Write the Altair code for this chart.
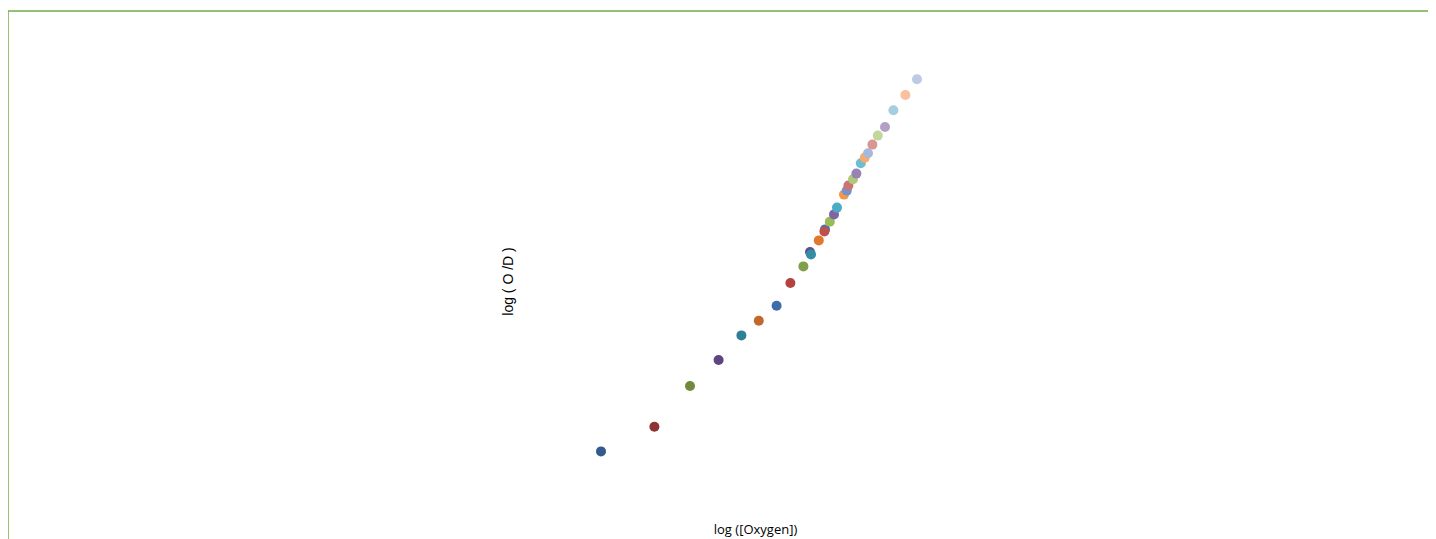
import altair as alt
import pandas as pd

# log([Oxygen]) values
log_oxygen = [-1.035, -0.768, -0.590, -0.447, -0.333, -0.246, -0.157, -0.088,
              -0.023, 0.010, 0.015, 0.054, 0.085, 0.082, 0.109, 0.130,
              0.145, 0.180, 0.194, 0.202, 0.225, 0.242, 0.264, 0.284,
              0.300, 0.322, 0.349, 0.385, 0.427, 0.487, 0.545]
# log(O/D) values
log_od = [-1.202, -1.079, -0.875, -0.745, -0.622, -0.549, -0.474, -0.360,
          -0.277, -0.205, -0.217, -0.147, -0.092, -0.102, -0.054, -0.017,
          0.017, 0.082, 0.102, 0.127, 0.159, 0.187, 0.239, 0.267,
          0.289, 0.332, 0.377, 0.420, 0.504, 0.580, 0.659]
series_colors = ["#335b8e", "#8c3431", "#70893c", "#5b4680", "#2f7f96", "#c0692a",
                 "#3c6daa", "#b4423f", "#7fa04a", "#5e4d8a", "#338ea5", "#e0792f",
                 "#4472b5", "#c0504d", "#9bbb59", "#8064a2", "#4bacc6", "#f79646",
                 "#6f94d0", "#cd7371", "#afc97a", "#9983b5", "#6fbdd3", "#f9ab6b",
                 "#a5b8de", "#d99694", "#c3d69b", "#b2a1c7", "#a5cfe0", "#fbc09d",
                 "#bccae4"]
series_ids = [f"Series{i + 1}" for i in range(len(log_oxygen))]

df = pd.DataFrame({"series": series_ids, "x": log_oxygen, "y": log_od})

W, H = 1420, 528

points = alt.Chart(df).mark_circle(size=100, opacity=1).encode(
    x=alt.X("x:Q", scale=alt.Scale(domain=[-4, 3.1], nice=False, zero=False),
            axis=alt.Axis(title="log ([Oxygen])", domain=False, labels=False, ticks=False,
                          grid=False, titleX=747, titleY=-10, titleBaseline="middle",
                          titleAlign="center", titleFont="Open Sans",
                          titleFontSize=13, titleFontWeight="normal", titleColor="#000000")),
    y=alt.Y("y:Q", scale=alt.Scale(domain=[-1.64, 1.0], nice=False, zero=False),
            axis=alt.Axis(title="log ( O /D )", domain=False, labels=False, ticks=False,
                          grid=False, titleX=500, titleY=270, titleBaseline="middle",
                          titleAlign="center", titleAngle=-90, titleFont="Liberation Sans",
                          titleFontSize=14, titleFontWeight="normal", titleColor="#000000")),
    color=alt.Color("series:N", scale=alt.Scale(domain=series_ids, range=series_colors),
                    legend=None),
)

frame_df = pd.DataFrame({"k": [0]})
top_rule = alt.Chart(frame_df).mark_rule(color="#70ad47", strokeWidth=1.5).encode(
    x=alt.value(0), x2=alt.value(W), y=alt.value(0)
)
left_rule = alt.Chart(frame_df).mark_rule(color="#70ad47", strokeWidth=1.5).encode(
    x=alt.value(0), y=alt.value(0), y2=alt.value(H)
)

chart = alt.layer(points, top_rule, left_rule).properties(
    width=W, height=H,
    padding={"left": 0, "top": 3, "right": 0, "bottom": 0},
    autosize=alt.AutoSizeParams(type="none"),
).configure_view(stroke=None)

chart.save("out.html", embed_options={"renderer": "svg", "actions": False})
